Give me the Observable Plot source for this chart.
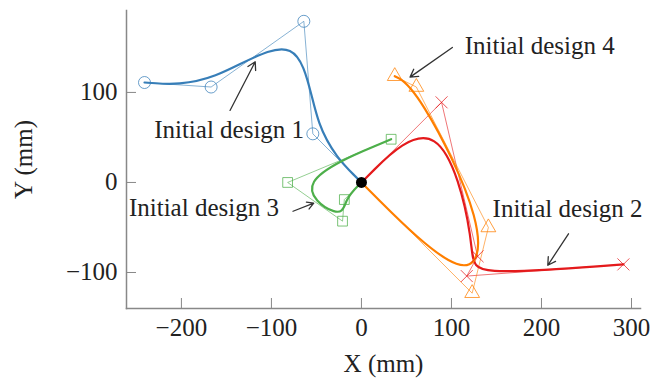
<!DOCTYPE html>
<html>
<head>
<meta charset="utf-8">
<script src="https://cdn.jsdelivr.net/npm/d3@7"></script>
<script src="https://cdn.jsdelivr.net/npm/@observablehq/plot@0.6"></script>
<style>
  html, body { margin: 0; padding: 0; background: #fff; }
</style>
</head>
<body>
<div id="chart"></div>
<script>
// Control points of each design (polygon starts at the origin)
const design1X = [0, -54, -64, -167, -241];
const design1Y = [0, 54, 179, 106, 111];
const design2X = [0, 89, 129, 117, 291];
const design2Y = [0, 89, -82, -104, -91];
const design3X = [0, -19, -21, -82, 33];
const design3Y = [0, -19, -43, 0, 48];
const design4X = [0, 123, 141, 61, 37];
const design4Y = [0, -123, -50, 106, 118];

const designNames = ["Design 1", "Design 2", "Design 3", "Design 4"];
const designColors = ["#377eb8", "#e41a1c", "#4daf4a", "#ff7f00"];
const designSymbols = ["circle", "times", "square", "triangle"];

// Annotations
const labelTexts = ["Initial design 1", "Initial design 2", "Initial design 3", "Initial design 4"];
const labelX = [-147, 229, -175, 198];
const labelY = [58, -29, -28, 152];
const arrowX1 = [-146, 230, -76, 101];
const arrowY1 = [80, -57, -32, 150];
const arrowX2 = [-118, 207, -53, 54];
const arrowY2 = [134, -92, -23, 117];

const xTicks = [-200, -100, 0, 100, 200, 300];
const yTicks = [-100, 0, 100];

const allX = [design1X, design2X, design3X, design4X];
const allY = [design1Y, design2Y, design3Y, design4Y];
const points = [];
allX.forEach((xs, k) => xs.forEach((x, i) => points.push({design: designNames[k], idx: i, x, y: allY[k][i]})));
const controlPts = points.filter(d => d.idx > 0);
const labels = labelTexts.map((t, i) => ({t, x: labelX[i], y: labelY[i]}));
const arrows = labelTexts.map((t, i) => ({x1: arrowX1[i], y1: arrowY1[i], x2: arrowX2[i], y2: arrowY2[i]}));

const marks = [
  Plot.axisX(xTicks, {tickSize: -10, tickPadding: 20, stroke: "#888", fill: "#222",
    label: "X (mm)", labelAnchor: "center", labelOffset: 63, labelArrow: "none"}),
  Plot.axisY(yTicks, {tickSize: -10, tickPadding: 19, stroke: "#888", fill: "#222",
    label: "Y (mm)", labelAnchor: "center", labelOffset: 112, labelArrow: "none"}),
  Plot.frame({anchor: "bottom", stroke: "#888", strokeWidth: 1.5}),
  Plot.frame({anchor: "left", stroke: "#888", strokeWidth: 1.5})
];
designNames.forEach((n, k) => {
  const pts = points.filter(d => d.design === n);
  marks.push(Plot.line(pts, {x: "x", y: "y", stroke: designColors[k], strokeWidth: 1, strokeOpacity: 0.6}));
});
designNames.forEach((n, k) => {
  const pts = points.filter(d => d.design === n);
  marks.push(Plot.line(pts, {x: "x", y: "y", curve: "basis", stroke: designColors[k], strokeWidth: 2.2}));
});
designNames.forEach((n, k) => {
  const pts = controlPts.filter(d => d.design === n);
  marks.push(Plot.dot(pts, {x: "x", y: "y", symbol: designSymbols[k], r: k === 0 ? 6 : 5.5, fill: "none",
    stroke: designColors[k], strokeWidth: 1, strokeOpacity: 0.75}));
});
marks.push(Plot.dot([points[0]], {x: "x", y: "y", r: 5.5, fill: "black", stroke: "none"}));
marks.push(Plot.arrow(arrows, {x1: "x1", y1: "y1", x2: "x2", y2: "y2", stroke: "#333", strokeWidth: 1.3, headLength: 10}));
marks.push(Plot.text(labels, {x: "x", y: "y", text: "t", fill: "#222", fontSize: 25}));

const chart = Plot.plot({
  width: 652,
  height: 380,
  marginLeft: 126,
  marginRight: 12,
  marginTop: 10,
  marginBottom: 72,
  x: {domain: [-261, 310]},
  y: {domain: [-140, 191]},
  style: {fontFamily: "'Liberation Serif', 'Times New Roman', serif", fontSize: "25px", background: "white", color: "#222"},
  marks
});
document.getElementById("chart").appendChild(chart);
</script>
</body>
</html>
